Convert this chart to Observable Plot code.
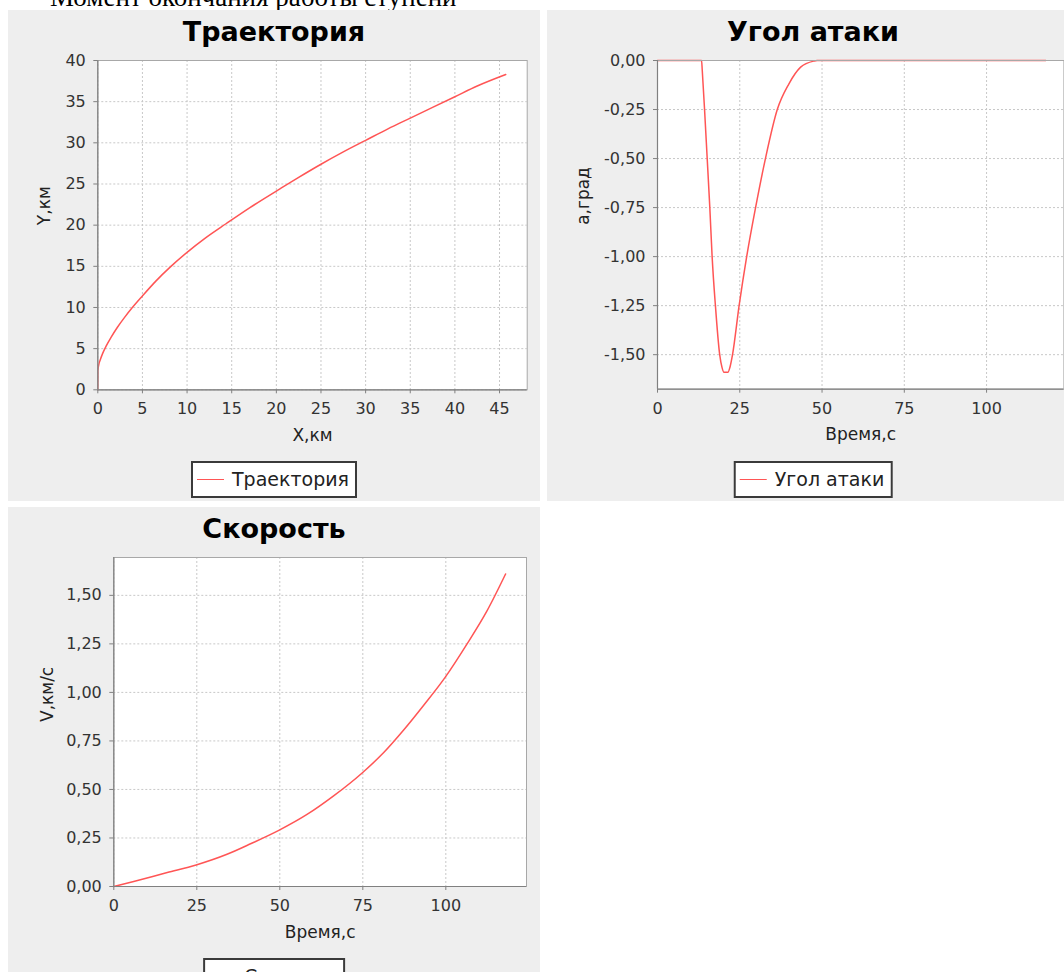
<!DOCTYPE html>
<html>
<head>
<meta charset="utf-8">
<script src="https://cdn.jsdelivr.net/npm/d3@7"></script>
<script src="https://cdn.jsdelivr.net/npm/@observablehq/plot@0.6"></script>
<style>
  html, body { margin: 0; padding: 0; background: #ffffff; }
  body { width: 1064px; height: 972px; overflow: hidden; position: relative; font-family: "DejaVu Sans", sans-serif; }
  .heading { position: absolute; top: -16.5px; left: 0; font-family: "Liberation Serif", serif; font-size: 27px; line-height: 27px; color: #000; white-space: nowrap; }
  .panel { position: absolute; background: #eeeeee; overflow: hidden; }
  .panel svg { position: absolute; left: 0; top: 0; }
  .title { position: absolute; left: 0; right: 0; top: 8px; text-align: center; font-family: "DejaVu Sans", sans-serif; font-weight: bold; font-size: 27px; line-height: 27px; color: #000; }
  .legend { position: absolute; top: 451px; left: 50%; transform: translateX(-50%); height: 37px; box-sizing: border-box; border: 2px solid #3a3a3a; background: #fff; display: flex; align-items: center; padding: 0 6px 0 4px; white-space: nowrap; }
  .legend .swatch { width: 27px; height: 0; border-top: 1.5px solid #ff5555; margin-right: 8px; }
  .legend .txt { font-family: "DejaVu Sans", sans-serif; font-size: 19px; color: #222; line-height: 19px; }
</style>
</head>
<body>
<div class="heading" style="left:13px">•</div>
<div class="heading" style="left:50px">Момент окончания работы ступени</div>

<div class="panel" id="p1" style="left:8px; top:10px; width:532px; height:491px;"></div>
<div class="panel" id="p2" style="left:547px; top:10px; width:532px; height:491px;"></div>
<div class="panel" id="p3" style="left:8px; top:507px; width:532px; height:500px;"></div>

<script>
// ---------- data ----------
const titles = ["Траектория", "Угол атаки", "Скорость"];
const legendNames = ["Траектория", "Угол атаки", "Скорость"];
const xLabels = ["X,км", "Время,с", "Время,с"];
const yLabels = ["Y,км", "а,град", "V,км/с"];

// Trajectory: X (km) vs Y (km)
const trajX = [0, 0.01, 0.1, 0.26, 0.5, 0.93, 1.5, 2.2, 3, 3.8, 5, 6.5, 8.1, 10, 12, 14.4, 17, 20.4, 22.5, 25, 27.5, 30, 32.5, 35, 37.5, 40, 42.5, 45.7];
const trajY = [0, 2.3, 3.0, 3.6, 4.3, 5.3, 6.4, 7.6, 8.8, 9.9, 11.4, 13.2, 14.9, 16.7, 18.4, 20.2, 22.1, 24.4, 25.8, 27.4, 28.9, 30.3, 31.7, 33.0, 34.3, 35.6, 36.9, 38.3];

// Angle of attack: time (s) vs alpha (deg)
const alphaT = [0, 13.4, 13.6, 14.3, 15.1, 15.9, 16.6, 17.6, 18.9, 19.6, 20.2, 21.4, 22.0, 22.8, 24.8, 27.1, 29.8, 32.8, 36.4, 39.9, 43.5, 47.5, 48.5, 118];
const alphaA = [0, 0, -0.05, -0.25, -0.5, -0.75, -1.0, -1.25, -1.5, -1.565, -1.59, -1.59, -1.565, -1.5, -1.25, -1.0, -0.75, -0.5, -0.25, -0.12, -0.034, -0.003, 0, 0];

// Velocity: time (s) vs V (km/s)
const velT = [0, 6, 16.1, 24.8, 34.1, 41.2, 49.7, 58.2, 66.3, 74.8, 81.3, 87.3, 93.4, 99.9, 106.4, 112.4, 118];
const velV = [0, 0.026, 0.072, 0.111, 0.166, 0.22, 0.289, 0.371, 0.468, 0.585, 0.69, 0.806, 0.935, 1.08, 1.25, 1.42, 1.61];

// Tick values
const trajXTicks = [0, 5, 10, 15, 20, 25, 30, 35, 40, 45];
const trajYTicks = [0, 5, 10, 15, 20, 25, 30, 35, 40];
const timeTicks = [0, 25, 50, 75, 100];
const alphaTicks = [0, -0.25, -0.5, -0.75, -1.0, -1.25, -1.5];
const velTicks = [0, 0.25, 0.5, 0.75, 1.0, 1.25, 1.5];

// ---------- helpers ----------
const comma2 = v => v.toFixed(2).replace(".", ",");
const intFmt = v => String(v);
const zip = (xs, ys) => xs.map((x, i) => ({x, y: ys[i]}));

function chart(cfg) {
  const W = 532, H = 445;
  const axisColor = "#808080";
  const gridStyle = {stroke: "#c8c8c8", strokeOpacity: 1, strokeDasharray: "2,2", strokeWidth: 1};
  return Plot.plot({
    width: W, height: H,
    marginLeft: cfg.ml, marginRight: cfg.mr, marginTop: cfg.mt, marginBottom: cfg.mb,
    style: {background: "transparent", fontFamily: "DejaVu Sans, sans-serif", fontSize: "16px", color: "#333", overflow: "visible"},
    x: {domain: cfg.xDomain},
    y: {domain: cfg.yDomain},
    marks: [
      Plot.frame({fill: "#ffffff", stroke: null}),
      Plot.gridX(cfg.xTicks, gridStyle),
      Plot.gridY(cfg.yTicks, gridStyle),
      Plot.line(cfg.data, {x: "x", y: "y", stroke: "#ff5555", strokeWidth: 1.5, curve: "monotone-x"}),
      Plot.frame({stroke: "#a8a8a8", strokeWidth: 1}),
      Plot.ruleX([cfg.xDomain[0]], {stroke: axisColor, strokeWidth: 1.2}),
      Plot.ruleY([cfg.yDomain[0]], {stroke: axisColor, strokeWidth: 1.2}),
      Plot.axisX(cfg.xTicks, {tickSize: 4, tickPadding: 9, stroke: axisColor, fill: "#333", tickFormat: cfg.xFormat, label: null, fontSize: 16}),
      Plot.axisY(cfg.yTicks, {tickSize: 4, tickPadding: 8, stroke: axisColor, fill: "#333", tickFormat: cfg.yFormat, label: null, fontSize: 16}),
      Plot.text([cfg.xLabel], {text: d => d, frameAnchor: "bottom", dy: 51, fontSize: 17, fill: "#222"}),
      Plot.text([cfg.yLabel], {text: d => d, frameAnchor: "left", dx: cfg.yLabelDx, rotate: -90, fontSize: 17, fill: "#222"})
    ]
  });
}

function buildPanel(id, idx, plotCfg) {
  const panel = document.getElementById(id);
  panel.appendChild(chart(plotCfg));
  const t = document.createElement("div");
  t.className = "title";
  t.textContent = titles[idx];
  panel.appendChild(t);
  const lg = document.createElement("div");
  lg.className = "legend";
  lg.innerHTML = '<div class="swatch"></div><div class="txt"></div>';
  lg.querySelector(".txt").textContent = legendNames[idx];
  panel.appendChild(lg);
}

buildPanel("p1", 0, {
  data: zip(trajX, trajY),
  xDomain: [0, 48.1], yDomain: [0, 40],
  xTicks: trajXTicks, yTicks: trajYTicks,
  xFormat: intFmt, yFormat: intFmt,
  ml: 89.3, mr: 13.3, mt: 50, mb: 65.7,
  xLabel: xLabels[0], yLabel: yLabels[0], yLabelDx: -53
});

buildPanel("p2", 1, {
  data: zip(alphaT, alphaA),
  xDomain: [0, 123.5], yDomain: [-1.676, 0],
  xTicks: timeTicks, yTicks: alphaTicks,
  xFormat: intFmt, yFormat: comma2,
  ml: 110, mr: 15.6, mt: 50, mb: 66.3,
  xLabel: xLabels[1], yLabel: yLabels[1], yLabelDx: -74
});

buildPanel("p3", 2, {
  data: zip(velT, velV),
  xDomain: [0, 124.3], yDomain: [0, 1.695],
  xTicks: timeTicks, yTicks: velTicks,
  xFormat: intFmt, yFormat: comma2,
  ml: 105.3, mr: 14, mt: 50, mb: 66,
  xLabel: xLabels[2], yLabel: yLabels[2], yLabelDx: -66
});
</script>
</body>
</html>
